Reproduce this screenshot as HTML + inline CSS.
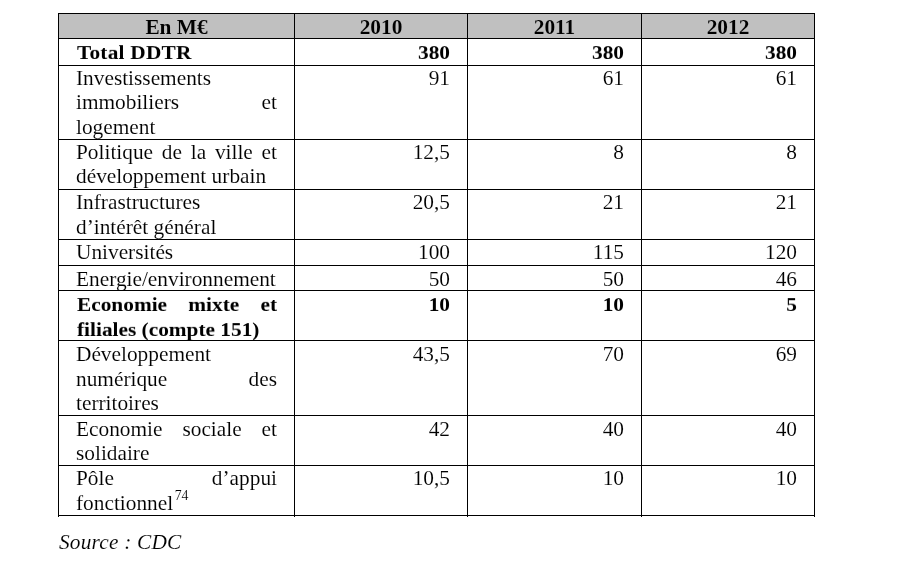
<!DOCTYPE html>
<html>
<head>
<meta charset="utf-8">
<title>Table DDTR</title>
<style>
html,body{margin:0;padding:0;background:#fff;}
body{width:913px;height:562px;position:relative;overflow:hidden;font-family:"Liberation Serif",serif;font-size:21.33px;line-height:24.0px;color:#000;}
.h,.v,.t,.hd{position:absolute;}
.h{height:1px;background:#000;left:58px;width:757px;z-index:2;}
.v{width:1px;background:#000;top:13px;height:504px;z-index:2;}
.hd{background:#c0c0c0;top:14px;height:24px;}
.t{white-space:nowrap;height:24.0px;will-change:transform;-webkit-text-stroke:.1px #fff;}
.hc{-webkit-text-stroke:.1px #c0c0c0;}
.b{font-weight:bold;}
.ls{letter-spacing:.22px;}
.lc{letter-spacing:.2px;}
.s{transform:scaleY(.92);transform-origin:0 19px;-webkit-text-stroke:0;}
.j{text-align:justify;text-align-last:justify;white-space:normal;}
.r{text-align:right;}
.c{text-align:center;}
.i{font-style:italic;}
sup{font-size:13.8px;line-height:0;vertical-align:baseline;position:relative;top:-10px;margin-left:1.5px;}

</style>
</head>
<body>
<div class="hd" style="left:59px;width:235px"></div>
<div class="hd" style="left:295px;width:172px"></div>
<div class="hd" style="left:468px;width:173px"></div>
<div class="hd" style="left:642px;width:172px"></div>
<div class="h" style="top:13px"></div>
<div class="h" style="top:38px"></div>
<div class="h" style="top:65px"></div>
<div class="h" style="top:139px"></div>
<div class="h" style="top:189px"></div>
<div class="h" style="top:239px"></div>
<div class="h" style="top:265px"></div>
<div class="h" style="top:290px"></div>
<div class="h" style="top:340px"></div>
<div class="h" style="top:415px"></div>
<div class="h" style="top:465px"></div>
<div class="h" style="top:515px"></div>
<div class="v" style="left:58px"></div>
<div class="v" style="left:294px"></div>
<div class="v" style="left:467px"></div>
<div class="v" style="left:641px"></div>
<div class="v" style="left:814px"></div>
<div class="t b c hc" style="left:59.0px;top:15px;width:235.0px">En M€</div>
<div class="t b c hc" style="left:295.0px;top:15px;width:172.0px">2010</div>
<div class="t b c hc" style="left:468.0px;top:15px;width:173.0px">2011</div>
<div class="t b c hc" style="left:642.0px;top:15px;width:172.0px">2012</div>
<div class="t b s ls" style="left:77.0px;top:40px;width:200.0px">Total DDTR</div>
<div class="t " style="left:76.0px;top:66px;width:201.0px">Investissements</div>
<div class="t j" style="left:76.0px;top:90px;width:201.0px">immobiliers et</div>
<div class="t " style="left:76.0px;top:115px;width:201.0px">logement</div>
<div class="t j" style="left:76.0px;top:140px;width:201.0px">Politique de la ville et</div>
<div class="t " style="left:76.0px;top:164px;width:201.0px">développement urbain</div>
<div class="t " style="left:76.0px;top:190px;width:201.0px">Infrastructures</div>
<div class="t " style="left:76.0px;top:215px;width:201.0px">d’intérêt général</div>
<div class="t " style="left:76.0px;top:240px;width:201.0px">Universités</div>
<div class="t " style="left:76.0px;top:267px;width:201.0px">Energie/environnement</div>
<div class="t b s j" style="left:77.0px;top:292px;width:200.0px">Economie mixte et</div>
<div class="t b s" style="left:77.0px;top:317px;width:200.0px">filiales (compte 151)</div>
<div class="t " style="left:76.0px;top:342px;width:201.0px">Développement</div>
<div class="t j" style="left:76.0px;top:367px;width:201.0px">numérique des</div>
<div class="t " style="left:76.0px;top:391px;width:201.0px">territoires</div>
<div class="t j" style="left:76.0px;top:417px;width:201.0px">Economie sociale et</div>
<div class="t " style="left:76.0px;top:441px;width:201.0px">solidaire</div>
<div class="t j" style="left:76.0px;top:466px;width:201.0px">Pôle d’appui</div>
<div class="t " style="left:76.0px;top:491px;width:201.0px">fonctionnel<sup>74</sup></div>
<div class="t b s r" style="left:330.0px;top:40px;width:120.0px">380</div>
<div class="t b s r" style="left:503.5px;top:40px;width:120.0px">380</div>
<div class="t b s r" style="left:676.8px;top:40px;width:120.0px">380</div>
<div class="t r" style="left:330.0px;top:66px;width:120.0px">91</div>
<div class="t r" style="left:503.5px;top:66px;width:120.0px">61</div>
<div class="t r" style="left:676.8px;top:66px;width:120.0px">61</div>
<div class="t r" style="left:330.0px;top:140px;width:120.0px">12,5</div>
<div class="t r" style="left:503.5px;top:140px;width:120.0px">8</div>
<div class="t r" style="left:676.8px;top:140px;width:120.0px">8</div>
<div class="t r" style="left:330.0px;top:190px;width:120.0px">20,5</div>
<div class="t r" style="left:503.5px;top:190px;width:120.0px">21</div>
<div class="t r" style="left:676.8px;top:190px;width:120.0px">21</div>
<div class="t r" style="left:330.0px;top:240px;width:120.0px">100</div>
<div class="t r" style="left:503.5px;top:240px;width:120.0px">115</div>
<div class="t r" style="left:676.8px;top:240px;width:120.0px">120</div>
<div class="t r" style="left:330.0px;top:267px;width:120.0px">50</div>
<div class="t r" style="left:503.5px;top:267px;width:120.0px">50</div>
<div class="t r" style="left:676.8px;top:267px;width:120.0px">46</div>
<div class="t b s r" style="left:330.0px;top:292px;width:120.0px">10</div>
<div class="t b s r" style="left:503.5px;top:292px;width:120.0px">10</div>
<div class="t b s r" style="left:676.8px;top:292px;width:120.0px">5</div>
<div class="t r" style="left:330.0px;top:342px;width:120.0px">43,5</div>
<div class="t r" style="left:503.5px;top:342px;width:120.0px">70</div>
<div class="t r" style="left:676.8px;top:342px;width:120.0px">69</div>
<div class="t r" style="left:330.0px;top:417px;width:120.0px">42</div>
<div class="t r" style="left:503.5px;top:417px;width:120.0px">40</div>
<div class="t r" style="left:676.8px;top:417px;width:120.0px">40</div>
<div class="t r" style="left:330.0px;top:466px;width:120.0px">10,5</div>
<div class="t r" style="left:503.5px;top:466px;width:120.0px">10</div>
<div class="t r" style="left:676.8px;top:466px;width:120.0px">10</div>
<div class="t i lc" style="left:59.0px;top:530px;width:200.0px">Source : CDC</div>
</body>
</html>
